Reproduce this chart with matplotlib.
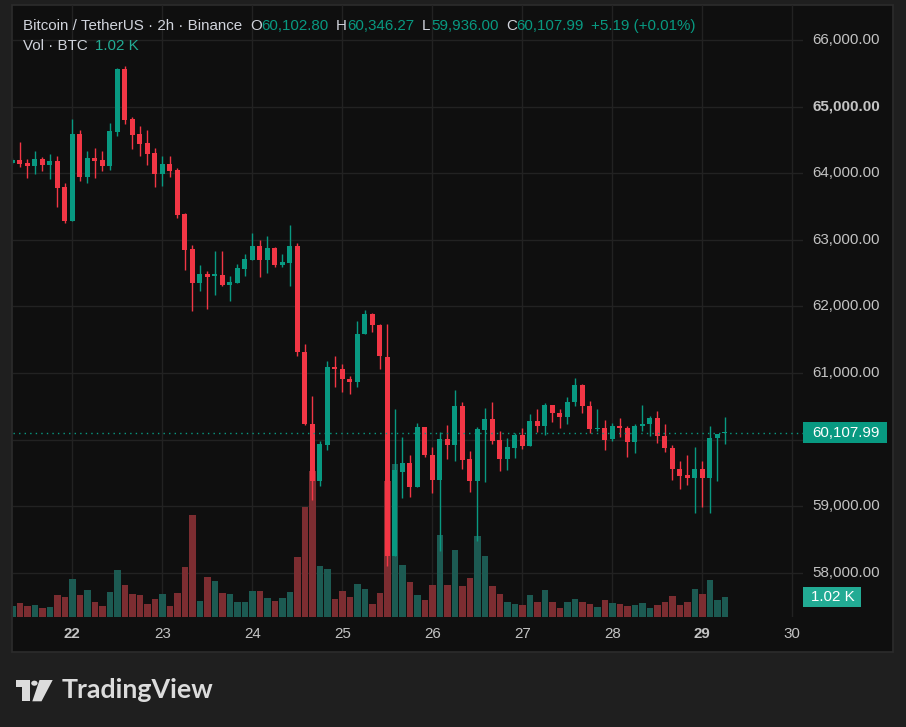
import matplotlib
matplotlib.use("Agg")
import matplotlib.pyplot as plt
import matplotlib.transforms as mtransforms
from matplotlib.patches import Rectangle, Polygon, Circle

# ---------------- data (2h candles, index 0 = 22nd 00:00) ----------------
start_index = -8
opens = [64156, 64200, 64155, 64115, 64215, 64125, 64185, 63795,
         63290, 64590, 63950, 64230, 64200, 64115, 64625, 65565, 64815, 64590, 64455, 64305,
         63995, 64140, 64050, 63390, 62865, 62360, 62490, 62465, 62475, 62330, 62360, 62570,
         62705, 62910, 62705, 62880, 62630, 62660, 62910, 61320, 60240, 59375, 59925, 61095,
         61065, 60915, 60860, 61580, 61890, 61725, 61240, 58260, 59520, 59655, 59295, 60195,
         59775, 59400, 60015, 59925, 60510, 59715, 59385, 60150, 60315, 60000, 59715, 59880,
         60075, 59910, 60285, 60210, 60525, 60405, 60335, 60560, 60825, 60510, 60155, 60180,
         60005, 60210, 60180, 59960, 60200, 60230, 60330, 60060, 59880, 59565, 59465, 59420,
         59565, 59420, 60030, 60102.80]
highs = [64230, 64470, 64215, 64335, 64245, 64290, 64260, 63855,
         64815, 64650, 64335, 64380, 64335, 64755, 65580, 65610, 64845, 64710, 64650, 64380,
         64260, 64260, 64080, 63400, 62925, 62625, 62535, 62835, 62835, 62460, 62640, 62790,
         63105, 63000, 63060, 62895, 62790, 63225, 62955, 61440, 60660, 59985, 61185, 61260,
         61140, 60950, 61785, 61950, 61905, 61740, 61740, 60465, 60045, 59775, 60255, 60195,
         59895, 60120, 60225, 60750, 60570, 59835, 60195, 60480, 60570, 60135, 60030, 60105,
         60180, 60390, 60465, 60555, 60525, 60465, 60645, 60930, 60840, 60585, 60465, 60300,
         60255, 60330, 60210, 60240, 60525, 60360, 60435, 60240, 59925, 59685, 59775, 59895,
         59685, 60210, 60090, 60346.27]
lows = [64140, 64100, 63935, 63995, 64040, 63920, 63500, 63260,
        63290, 63890, 63860, 63935, 64040, 64055, 64565, 64745, 64370, 64265, 64130, 63800,
        63815, 63950, 63335, 62555, 61925, 62240, 61955, 62180, 62315, 62090, 62360, 62465,
        62705, 62450, 62510, 62600, 62600, 62315, 61250, 60220, 59090, 59300, 59840, 60785,
        60710, 60680, 60785, 61580, 61610, 61055, 58100, 58260, 59130, 59145, 59295, 59735,
        59205, 58325, 59715, 59685, 59565, 59220, 58485, 59370, 59940, 59535, 59550, 59730,
        59865, 59910, 60120, 60075, 60270, 60180, 60240, 60500, 60395, 60095, 60125, 59840,
        59975, 60035, 59735, 59795, 60125, 60050, 59945, 59810, 59390, 59255, 59315, 58895,
        58985, 58895, 59375, 59936.00]
closes = [64201, 64145, 64115, 64215, 64125, 64185, 63785, 63290,
          64590, 63950, 64230, 64185, 64115, 64635, 65565, 64805, 64580, 64445, 64295, 63995,
          64140, 64040, 63380, 62855, 62360, 62490, 62450, 62475, 62330, 62375, 62580, 62715,
          62910, 62705, 62880, 62630, 62670, 62910, 61310, 60230, 59375, 59940, 61095, 61055,
          60905, 60860, 61590, 61890, 61715, 61250, 58260, 59540, 59655, 59295, 60195, 59765,
          59400, 60015, 59925, 60510, 59700, 59385, 60165, 60315, 59985, 59715, 59895, 60075,
          59910, 60285, 60210, 60525, 60395, 60335, 60570, 60825, 60500, 60155, 60180, 60000,
          60210, 60170, 59960, 60210, 60240, 60330, 60050, 59870, 59555, 59450, 59420, 59565,
          59420, 60030, 60090, 60107.99]
volumes_k = [0.56, 0.71, 0.56, 0.61, 0.46, 0.51, 1.12, 1.02,
             1.94, 1.12, 1.38, 0.77, 0.56, 1.28, 2.40, 1.63, 1.17, 1.12, 0.66, 0.92,
             1.17, 0.56, 1.22, 2.55, 5.20, 0.82, 2.04, 1.84, 1.22, 1.17, 0.77, 0.77,
             1.33, 1.33, 0.97, 0.82, 0.97, 1.28, 3.06, 5.61, 7.45, 2.60, 2.45, 0.92,
             1.33, 1.02, 1.68, 1.43, 0.66, 1.22, 6.94, 7.80, 2.65, 1.79, 1.12, 0.87,
             1.63, 4.18, 1.63, 3.42, 1.58, 1.99, 4.13, 3.11, 1.58, 1.17, 0.77, 0.66,
             0.61, 1.12, 0.77, 1.38, 0.77, 0.46, 0.77, 0.92, 0.77, 0.66, 0.51, 0.87,
             0.71, 0.66, 0.56, 0.61, 0.71, 0.46, 0.61, 0.77, 1.07, 0.61, 0.77, 1.43,
             1.17, 1.89, 0.87, 1.02]
day_labels = ['22', '23', '24', '25', '26', '27', '28', '29', '30']
bold_days = ['22', '29']
price_ticks = [58000, 59000, 60000, 61000, 62000, 63000, 64000, 65000, 66000]
bold_prices = [65000]
candles_per_day = 12

# ---------------- style ----------------
W, H = 906, 727
UP, DOWN = '#089981', '#f23645'
VUP, VDOWN = '#1c5a52', '#7c2d31'
TXT = '#d1d4dc'
AX_TXT = '#c3c3c3'
FS = 10.9
FONT = ['Liberation Sans', 'DejaVu Sans']
plt.rcParams['font.family'] = FONT

fig = plt.figure(figsize=(W / 100, H / 100), dpi=100, facecolor='#1f1f1f')

def P(x, y):
    return (x / W, 1 - y / H)

# chart panel
fig.patches.append(Rectangle(P(12, 652), 881 / W, 647 / H, transform=fig.transFigure,
                             facecolor='#0f0f0f', edgecolor='#2c2c2c', lw=1.2, zorder=0))

rect = [13 / W, 1 - 617 / H, (803 - 13) / W, (617 - 5) / H]
n = len(opens)
xs = [start_index + i for i in range(n)]
xlim = (-7.907, 97.43)
ylim = (57339.6, 66525.3)

gax = fig.add_axes(rect, zorder=1)
vax = fig.add_axes(rect, zorder=2)
ax = fig.add_axes(rect, zorder=3)
for a in (gax, vax, ax):
    a.set_facecolor('none')
    a.set_xlim(*xlim)
    a.axis('off')
gax.set_ylim(*ylim)
ax.set_ylim(*ylim)
vax.set_ylim(0, 31.21)

# grid
for p in price_ticks:
    gax.axhline(p, color='#222222', lw=1)
day_pos = [i * candles_per_day for i in range(len(day_labels))]
for d in day_pos:
    gax.axvline(d, color='#222222', lw=1)

# volume
vcols = [VUP if c >= o else VDOWN for o, c in zip(opens, closes)]
vax.bar(xs, volumes_k, width=0.86, color=vcols, linewidth=0)

# candles
ccols = [UP if c >= o else DOWN for o, c in zip(opens, closes)]
ax.vlines(xs, lows, highs, colors=ccols, lw=1.0)
bottoms = [min(o, c) for o, c in zip(opens, closes)]
heights = [max(abs(c - o), 16) for o, c in zip(opens, closes)]
ax.bar(xs, heights, bottom=bottoms, width=0.67, color=ccols, linewidth=0)

last = closes[-1]
ax.axhline(last, color=UP, lw=1, linestyle=(0, (1, 3)))

# price scale labels (the one under the last-price tag is hidden, as in the reference)
tr_price = mtransforms.blended_transform_factory(fig.transFigure, ax.transData)
for p in price_ticks:
    if abs(p - last) < 400:
        continue
    fig.text(880 / W, p, f'{p:,.2f}', transform=tr_price, ha='right', va='center',
             fontsize=FS, color=AX_TXT, fontweight='bold' if p in bold_prices else 'normal')

# last price tag
fig.patches.append(Rectangle((803 / W, last - 157), 84 / W, 314, transform=tr_price,
                             facecolor=UP, edgecolor='none', zorder=5))
fig.text(846 / W, last, f'{last:,.2f}', transform=tr_price, ha='center', va='center',
         fontsize=FS, color='white', zorder=6)

# volume tag
tr_vol = mtransforms.blended_transform_factory(fig.transFigure, vax.transData)
vl = volumes_k[-1]
fig.patches.append(Rectangle((803 / W, vl - 0.51), 58 / W, 1.02, transform=tr_vol,
                             facecolor='#22ab94', edgecolor='none', zorder=5))
fig.text(833 / W, vl, f'{vl:.2f} K', transform=tr_vol, ha='center', va='center',
         fontsize=FS, color='white', zorder=6)

# time labels
tr_time = mtransforms.blended_transform_factory(ax.transData, fig.transFigure)
for d, lab in zip(day_pos, day_labels):
    fig.text(d, 1 - 634 / H, lab, transform=tr_time, ha='center', va='center',
             fontsize=FS, color=AX_TXT, fontweight='bold' if lab in bold_days else 'normal')

# header legend
y1 = 1 - 26 / H
pieces = [
    (23, 'Bitcoin / TetherUS · 2h · Binance', TXT),
    (250, 'O', TXT), (261, f'{opens[-1]:,.2f}', UP),
    (336, 'H', TXT), (347, f'{highs[-1]:,.2f}', UP),
    (422, 'L', TXT), (431, f'{lows[-1]:,.2f}', UP),
    (506, 'C', TXT), (516, f'{closes[-1]:,.2f}', UP),
    (591, '+5.19 (+0.01%)', UP),
]
for x, s, c in pieces:
    fig.text(x / W, y1, s, ha='left', va='center', fontsize=FS, color=c)
y2 = 1 - 46.5 / H
fig.text(23 / W, y2, 'Vol · BTC', ha='left', va='center', fontsize=FS, color=TXT)
fig.text(95 / W, y2, f'{vl:.2f} K', ha='left', va='center', fontsize=FS, color='#22ab94')

# TradingView logo
LOGO = '#dcdcdc'
fig.patches.append(Polygon([P(15.7, 680), P(30, 680), P(30, 701.3), P(22.3, 701.3),
                            P(22.3, 686.7), P(15.7, 686.7)], closed=True,
                           transform=fig.transFigure, facecolor=LOGO, edgecolor='none'))
fig.patches.append(Circle(P(34.4, 683.2), 3.2 / W, transform=fig.transFigure,
                          facecolor=LOGO, edgecolor='none'))
fig.patches.append(Polygon([P(39.5, 680), P(52.7, 680), P(41.5, 701.3), P(32.3, 701.3)],
                           closed=True, transform=fig.transFigure, facecolor=LOGO,
                           edgecolor='none'))
fig.text(61.7 / W, 1 - 698 / H, 'TradingView', ha='left', va='baseline', fontsize=19.3,
         fontweight='bold', color=LOGO, family=['Lato', 'DejaVu Sans'])

fig.savefig('out.png', dpi=100, facecolor=fig.get_facecolor())
